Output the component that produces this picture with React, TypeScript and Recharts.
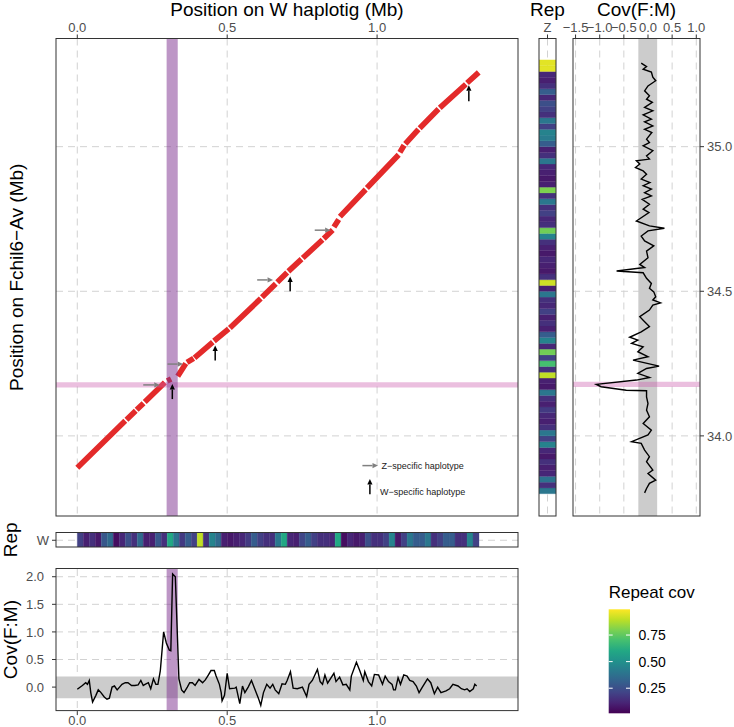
import React from 'react';
import {
  ComposedChart,
  ScatterChart,
  Scatter,
  Line,
  XAxis,
  YAxis,
  CartesianGrid,
  ReferenceLine,
  ReferenceArea,
  ReferenceDot,
} from 'recharts';

const FONT = '"Liberation Sans", Arial, Helvetica, sans-serif';
const RED = '#E32A2A';
const GRID = '#D2D2D2';
const DASH = '7 5';
const TICK_COL = '#4D4D4D';
const BORDER = '#333333';

// ---------- axis ticks ----------
const wTicks = [0, 0.5, 1.0];
const zTicks = [34.0, 34.5, 35.0];
const covZTicks = [-1.5, -1.0, -0.5, 0.0, 0.5, 1.0];
const covWTicks = [0.0, 0.5, 1.0, 1.5, 2.0];
const repWLabel = ['W'];
const repZLabel = ['Z'];

// ---------- domains ----------
const X_DOM: [number, number] = [-0.071, 1.47];
const Y_DOM: [number, number] = [33.723, 35.374];
const CZ_DOM: [number, number] = [-1.553, 1.077];
const CW_DOM: [number, number] = [-0.435, 2.14];

// ---------- highlighted regions ----------
const purpleBand = [0.298, 0.335]; // W haplotig (Mb)
const pinkBand = [34.169, 34.187]; // Fchil6-Av (Mb)
const covBand = [-0.2, 0.19];

// ---------- alignment segments (W haplotig x, Fchil6-Av y) ----------
const alnX1 = [0.000, 0.164, 0.198, 0.225, 0.300, 0.335, 0.366, 0.391, 0.456, 0.509, 0.616, 0.667, 0.704, 0.752, 0.822, 0.856, 0.876, 0.966, 1.076, 1.094, 1.142, 1.209, 1.300];
const alnX2 = [0.160, 0.195, 0.221, 0.292, 0.313, 0.362, 0.388, 0.452, 0.505, 0.612, 0.662, 0.700, 0.748, 0.818, 0.852, 0.872, 0.962, 1.072, 1.090, 1.138, 1.205, 1.296, 1.339];
const alnY1 = [33.890, 34.056, 34.090, 34.117, 34.190, 34.206, 34.254, 34.270, 34.328, 34.373, 34.479, 34.531, 34.569, 34.615, 34.682, 34.722, 34.758, 34.857, 34.980, 35.010, 35.064, 35.134, 35.220];
const alnY2 = [34.052, 34.087, 34.113, 34.185, 34.197, 34.250, 34.268, 34.324, 34.370, 34.475, 34.526, 34.565, 34.611, 34.678, 34.712, 34.748, 34.852, 34.972, 35.005, 35.060, 35.130, 35.216, 35.257];

// ---------- haplotype arrows ----------
const zArrowTailX = [0.220, 0.301, 0.600, 0.792];
const zArrowTipX = [0.275, 0.353, 0.653, 0.845];
const zArrowY = [34.178, 34.250, 34.541, 34.713];
const wArrowX = [0.317, 0.460, 0.710, 1.306];
const wArrowTailY = [34.129, 34.262, 34.502, 35.159];
const wArrowTipY = [34.181, 34.314, 34.553, 35.214];
// legend arrows
const legendLabels = ['Z\u2212specific haplotype', 'W\u2212specific haplotype'];
const legendZArrow = { x1: 0.951, x2: 1.003, y: 33.899 };
const legendWArrow = { x: 0.976, y1: 33.800, y2: 33.853 };
const legendTextX = [1.015, 1.010];
const legendTextY = [33.899, 33.809];

// ---------- repeat coverage tiles ----------
const REP_BIN = 0.02;
const repZStart = 33.80;
const repZVal = [
  0.40, 0.15, 0.38, 0.12, 0.10, 0.15, 0.08, 0.12, 0.45, 0.20,
  0.40, 0.15, 0.10, 0.12, 0.18, 0.10, 0.15, 0.40, 0.08, 0.10,
  0.90, 0.15, 0.70, 0.20, 0.78, 0.12, 0.45, 0.30, 0.10, 0.15,
  0.10, 0.20, 0.12, 0.15, 0.40, 0.10, 0.92, 0.15, 0.08, 0.10,
  0.12, 0.08, 0.10, 0.15, 0.45, 0.78, 0.15, 0.12, 0.20, 0.15,
  0.40, 0.15, 0.80, 0.10, 0.08, 0.10, 0.12, 0.40, 0.15, 0.10,
  0.30, 0.42, 0.45, 0.20, 0.40, 0.15, 0.20, 0.25, 0.12, 0.30,
  0.15, 0.10, 0.12, 0.95, 0.95,
];
const repWStart = 0.0;
const repWVal = [
  0.20, 0.10, 0.15, 0.08, 0.28, 0.35, 0.05, 0.12, 0.25, 0.15,
  0.35, 0.10, 0.10, 0.28, 0.15, 0.60, 0.38, 0.18, 0.30, 0.20,
  0.90, 0.15, 0.45, 0.35, 0.10, 0.08, 0.10, 0.12, 0.18, 0.30,
  0.20, 0.15, 0.15, 0.40, 0.60, 0.12, 0.10, 0.22, 0.30, 0.20,
  0.15, 0.15, 0.12, 0.60, 0.05, 0.12, 0.08, 0.10, 0.25, 0.15,
  0.15, 0.20, 0.45, 0.08, 0.20, 0.40, 0.30, 0.30, 0.40, 0.15,
  0.20, 0.30, 0.30, 0.15, 0.15, 0.45, 0.20,
];
const REP_MIN = 0.014;
const REP_MAX = 0.992;
const repLegendTicks = [0.25, 0.5, 0.75];

// ---------- Cov(F:M) along Fchil6-Av (right panel) ----------
const covZPos = [
  35.289, 35.277, 35.268, 35.258, 35.240, 35.228, 35.210, 35.193, 35.176, 35.164,
  35.153, 35.136, 35.124, 35.110, 35.095, 35.086, 35.072, 35.060, 35.049, 35.026,
  35.014, 35.003, 34.986, 34.968, 34.957, 34.951, 34.940, 34.928, 34.916, 34.905,
  34.888, 34.876, 34.865, 34.853, 34.841, 34.830, 34.818, 34.801, 34.784, 34.772,
  34.743, 34.726, 34.718, 34.709, 34.691, 34.674, 34.657, 34.639, 34.616, 34.593,
  34.582, 34.570, 34.564, 34.545, 34.527, 34.510, 34.498, 34.481, 34.470, 34.460,
  34.452, 34.435, 34.412, 34.395, 34.378, 34.360, 34.341, 34.331, 34.320, 34.308,
  34.291, 34.274, 34.262, 34.241, 34.233, 34.216, 34.202, 34.193, 34.178, 34.170,
  34.158, 34.156, 34.135, 34.112, 34.089, 34.066, 34.043, 34.020, 34.003, 33.980,
  33.974, 33.951, 33.928, 33.911, 33.882, 33.870, 33.847, 33.836, 33.818, 33.803,
];
const covZVal = [
  -0.14, -0.03, -0.10, 0.07, 0.10, 0.16, 0.00, -0.07, 0.03, -0.03,
  0.09, -0.07, 0.10, -0.10, 0.07, -0.07, 0.10, -0.07, 0.08, -0.03,
  0.03, -0.10, 0.10, -0.03, 0.03, -0.24, -0.17, -0.26, -0.10, -0.03,
  -0.14, 0.04, -0.10, 0.07, -0.07, 0.07, -0.12, 0.03, -0.10, 0.02,
  -0.24, 0.03, 0.34, 0.00, -0.14, -0.07, 0.12, -0.03, 0.00, -0.17,
  -0.07, -0.65, -0.10, -0.03, 0.07, 0.03, 0.12, 0.16, 0.10, 0.26,
  0.10, 0.03, -0.17, -0.07, 0.03, -0.14, -0.38, -0.21, -0.34, -0.10,
  -0.21, 0.00, -0.31, 0.23, -0.03, -0.21, 0.03, -0.24, -1.07, -0.97,
  -0.45, -0.03, -0.03, 0.00, -0.03, 0.03, -0.10, 0.07, 0.00, -0.34,
  -0.14, -0.07, 0.03, -0.03, 0.10, 0.00, 0.16, 0.03, -0.03, -0.07,
];

// ---------- Cov(F:M) along W haplotig (bottom panel) ----------
const covWPos = [
  0.000, 0.017, 0.028, 0.034, 0.040, 0.045, 0.051, 0.062, 0.070, 0.079,
  0.090, 0.099, 0.107, 0.116, 0.124, 0.133, 0.141, 0.149, 0.160, 0.169,
  0.181, 0.192, 0.203, 0.212, 0.220, 0.226, 0.237, 0.245, 0.254, 0.262,
  0.269, 0.277, 0.288, 0.297, 0.307, 0.312, 0.318, 0.327, 0.339, 0.348,
  0.356, 0.367, 0.375, 0.384, 0.393, 0.406, 0.418, 0.427, 0.435, 0.446,
  0.457, 0.463, 0.474, 0.480, 0.483, 0.491, 0.500, 0.508, 0.525, 0.530,
  0.542, 0.551, 0.559, 0.570, 0.581, 0.593, 0.604, 0.612, 0.621, 0.632,
  0.643, 0.652, 0.660, 0.672, 0.683, 0.694, 0.700, 0.711, 0.720, 0.734,
  0.751, 0.765, 0.773, 0.784, 0.801, 0.810, 0.818, 0.826, 0.835, 0.856,
  0.863, 0.875, 0.886, 0.897, 0.909, 0.914, 0.931, 0.942, 0.954, 0.959,
  0.971, 0.982, 0.991, 1.005, 1.018, 1.027, 1.038, 1.050, 1.055, 1.061,
  1.070, 1.078, 1.089, 1.100, 1.109, 1.120, 1.131, 1.140, 1.151, 1.168,
  1.179, 1.191, 1.202, 1.213, 1.230, 1.242, 1.253, 1.270, 1.281, 1.292,
  1.300, 1.309, 1.321, 1.326, 1.332,
];
const covWVal = [
  -0.04, 0.03, 0.08, 0.05, 0.12, -0.10, -0.27, -0.15, -0.05, -0.10,
  -0.18, -0.22, -0.20, 0.00, 0.02, -0.05, 0.00, 0.05, 0.08, 0.08,
  0.03, 0.03, 0.04, 0.12, 0.03, 0.05, 0.08, -0.03, 0.15, 0.05,
  0.05, 0.30, 1.00, 0.80, 0.67, 0.66, 2.05, 2.00, 0.15, -0.05,
  -0.10, 0.00, 0.08, 0.08, 0.03, 0.14, 0.08, 0.13, 0.20, 0.30,
  0.30, 0.20, 0.05, -0.10, -0.25, -0.15, 0.25, -0.03, -0.02, 0.00,
  -0.30, 0.02, -0.10, 0.00, 0.12, -0.05, -0.20, -0.33, -0.10, 0.05,
  -0.02, 0.05, -0.05, -0.12, 0.06, 0.05, 0.12, 0.28, -0.02, -0.03,
  0.00, -0.17, 0.05, 0.12, 0.32, 0.10, 0.05, 0.22, 0.07, 0.25,
  0.10, 0.18, 0.04, 0.05, -0.05, 0.20, 0.45, 0.30, 0.12, 0.28,
  0.10, 0.02, 0.23, 0.22, 0.05, 0.20, 0.10, 0.05, -0.05, -0.05,
  0.17, 0.05, 0.22, 0.20, 0.12, 0.10, 0.02, -0.10, 0.00, 0.15,
  0.08, -0.12, 0.00, -0.10, -0.07, -0.03, 0.05, 0.02, -0.03, -0.05,
  -0.03, -0.08, -0.03, 0.05, 0.02,
];

// ---------- helpers ----------
const VIRIDIS = ['#440154', '#482475', '#414487', '#355f8d', '#2a788e', '#21918c', '#22a884', '#44bf70', '#7ad151', '#bddf26', '#fde725'];
const hexRgb = (h: string) => [parseInt(h.slice(1, 3), 16), parseInt(h.slice(3, 5), 16), parseInt(h.slice(5, 7), 16)];
function viridis(v: number): string {
  let t = (v - REP_MIN) / (REP_MAX - REP_MIN);
  t = Math.max(0, Math.min(1, t));
  const s = t * (VIRIDIS.length - 1);
  const i = Math.min(VIRIDIS.length - 2, Math.floor(s));
  const f = s - i;
  const a = hexRgb(VIRIDIS[i]);
  const b = hexRgb(VIRIDIS[i + 1]);
  const c = a.map((av, k) => Math.round(av + (b[k] - av) * f));
  return `rgb(${c[0]},${c[1]},${c[2]})`;
}
const fmt1 = (v: number) => (v < 0 ? '\u2212' + Math.abs(v).toFixed(1) : v.toFixed(1));
const tickStyle = { fontSize: 13, fill: TICK_COL, fontFamily: FONT };

const alnData: { x: number; y: number | null }[] = [];
alnX1.forEach((x1, i) => {
  alnData.push({ x: x1, y: alnY1[i] });
  alnData.push({ x: alnX2[i], y: alnY2[i] });
  alnData.push({ x: alnX2[i], y: null });
});
const covZData = covZPos.map((p, i) => ({ v: covZVal[i], p }));
const covWData = covWPos.map((x, i) => ({ x, y: covWVal[i] }));

const makeArrow = (color: string) => (props: any) => {
  const { x1, y1, x2, y2 } = props;
  const dx = x2 - x1;
  const dy = y2 - y1;
  const len = Math.hypot(dx, dy) || 1;
  const ux = dx / len;
  const uy = dy / len;
  const hl = 5.5;
  const hw = 2.6;
  const bx = x2 - ux * hl;
  const by = y2 - uy * hl;
  return (
    <g>
      <line x1={x1} y1={y1} x2={bx} y2={by} stroke={color} strokeWidth={1.5} />
      <polygon points={`${x2},${y2} ${bx - uy * hw},${by + ux * hw} ${bx + uy * hw},${by - ux * hw}`} fill={color} />
    </g>
  );
};
const grayArrow = makeArrow('#808080');
const blackArrow = makeArrow('#000000');
const Empty = () => <g />;

// ---------- layout ----------
const PLOT_TOP = 38.5;
const PLOT_BOTTOM = 516;
const MAIN_L = 56;
const MAIN_W = 462;
const REPZ_L = 539;
const REPZ_W = 17;
const COVZ_L = 573;
const COVZ_W = 127;
const COVZ_PAD = 20;
const REPW_T = 532.5;
const REPW_H = 14.5;
const COVW_T = 568.5;
const COVW_H = 142.1;

const abs = (left: number, top: number): React.CSSProperties => ({ position: 'absolute', left, top });

export default function App() {
  const mainH = PLOT_BOTTOM;
  const barX = 608.7;
  const barW = 21.3;
  const barTop = 609.3;
  const barH = 104;
  const legY = (v: number) => barTop + barH - ((v - REP_MIN) / (REP_MAX - REP_MIN)) * barH;

  return (
    <div style={{ position: 'absolute', left: 0, top: 0, width: 734, height: 727, background: '#fff', fontFamily: FONT }}>
      {/* main dot plot: grid + alignments */}
      <div style={abs(MAIN_L, 0)}>
        <ComposedChart width={MAIN_W} height={mainH} data={alnData} margin={{ top: 0, right: 0, bottom: 0, left: 0 }}>
          <CartesianGrid stroke={GRID} strokeDasharray={DASH} verticalValues={wTicks} horizontalValues={zTicks} />
          <XAxis type="number" dataKey="x" orientation="top" domain={X_DOM} ticks={wTicks} allowDataOverflow height={PLOT_TOP}
            tickSize={4} tickMargin={3} axisLine={false} tickLine={{ stroke: BORDER }} tick={tickStyle} tickFormatter={fmt1} interval={0} />
          <YAxis type="number" domain={Y_DOM} allowDataOverflow hide />
          <Line dataKey="y" stroke={RED} strokeWidth={5.6} dot={false} isAnimationActive={false} connectNulls={false} strokeLinecap="butt" />
        </ComposedChart>
      </div>
      {/* main dot plot overlay: highlighted bands, arrows, arrow legend */}
      <div style={abs(MAIN_L, PLOT_TOP)}>
        <ComposedChart width={MAIN_W} height={PLOT_BOTTOM - PLOT_TOP} data={alnData} margin={{ top: 0, right: 0, bottom: 0, left: 0 }}>
          <XAxis type="number" dataKey="x" domain={X_DOM} allowDataOverflow hide />
          <YAxis type="number" domain={Y_DOM} allowDataOverflow hide />
          <ReferenceArea y1={pinkBand[0]} y2={pinkBand[1]} fill="#CC5FB0" fillOpacity={0.4} stroke="none" />
          <ReferenceArea x1={purpleBand[0]} x2={purpleBand[1]} fill="#7B2D8E" fillOpacity={0.5} stroke="none" />
          {zArrowTailX.map((x, i) => (
            <ReferenceLine key={'za' + i} segment={[{ x, y: zArrowY[i] }, { x: zArrowTipX[i], y: zArrowY[i] }]} shape={grayArrow} />
          ))}
          {wArrowX.map((x, i) => (
            <ReferenceLine key={'wa' + i} segment={[{ x, y: wArrowTailY[i] }, { x, y: wArrowTipY[i] }]} shape={blackArrow} />
          ))}
          <ReferenceLine segment={[{ x: legendZArrow.x1, y: legendZArrow.y }, { x: legendZArrow.x2, y: legendZArrow.y }]} shape={grayArrow} />
          <ReferenceLine segment={[{ x: legendWArrow.x, y: legendWArrow.y1 }, { x: legendWArrow.x, y: legendWArrow.y2 }]} shape={blackArrow} />
          {legendLabels.map((lab, i) => (
            <ReferenceDot key={'lt' + i} x={legendTextX[i]} y={legendTextY[i]} r={0}
              shape={(p: any) => (
                <text x={p.cx} y={p.cy} dy="0.35em" fontSize={9} fill="#1A1A1A" fontFamily={FONT}>{lab}</text>
              )} />
          ))}
        </ComposedChart>
      </div>

      {/* Rep Z strip */}
      <div style={abs(REPZ_L, 0)}>
        <ComposedChart width={REPZ_W} height={mainH} data={repZVal.map((v, i) => ({ i, v }))} margin={{ top: 0, right: 0, bottom: 0, left: 0 }}>
          <CartesianGrid stroke={GRID} strokeDasharray={DASH} verticalValues={[0.5]} horizontal={false} />
          <XAxis type="number" dataKey="i" orientation="top" domain={[0, 1]} ticks={[0.5]} allowDataOverflow height={PLOT_TOP}
            tickSize={4} tickMargin={3} axisLine={false} tickLine={{ stroke: BORDER }} tick={tickStyle} tickFormatter={() => repZLabel[0]} interval={0} />
          <YAxis type="number" domain={Y_DOM} allowDataOverflow hide />
          {repZVal.map((v, i) => (
            <ReferenceArea key={'rz' + i} x1={0} x2={1} y1={repZStart + i * REP_BIN} y2={repZStart + (i + 1) * REP_BIN}
              fill={viridis(v)} fillOpacity={1} stroke={viridis(v)} strokeWidth={0.3} />
          ))}
        </ComposedChart>
      </div>

      {/* Cov(F:M) vertical panel */}
      <div style={abs(COVZ_L - COVZ_PAD, 0)}>
        <ScatterChart width={734 - COVZ_L + COVZ_PAD} height={mainH} margin={{ top: 0, right: 0, bottom: 0, left: COVZ_PAD }}>
          <CartesianGrid stroke={GRID} strokeDasharray={DASH} verticalValues={covZTicks} horizontalValues={zTicks} />
          <XAxis type="number" dataKey="v" orientation="top" domain={CZ_DOM} ticks={covZTicks} allowDataOverflow height={PLOT_TOP}
            tickSize={4} tickMargin={3} axisLine={false} tickLine={{ stroke: BORDER }} tick={tickStyle} tickFormatter={fmt1} interval={0} />
          <YAxis type="number" dataKey="p" orientation="right" domain={Y_DOM} ticks={zTicks} allowDataOverflow width={734 - COVZ_L - COVZ_W}
            tickSize={4} tickMargin={3} axisLine={false} tickLine={{ stroke: BORDER }} tick={{ ...tickStyle, textAnchor: 'start' }} tickFormatter={fmt1} interval={0} />
          <ReferenceArea x1={covBand[0]} x2={covBand[1]} fill="#CCCCCC" fillOpacity={1} stroke="none" />
          <ReferenceArea y1={pinkBand[0]} y2={pinkBand[1]} fill="#CC5FB0" fillOpacity={0.4} stroke="none" />
          <Scatter data={covZData} line={{ stroke: '#000', strokeWidth: 1.4 }} shape={Empty} isAnimationActive={false} />
        </ScatterChart>
      </div>

      {/* Rep W strip */}
      <div style={abs(0, REPW_T)}>
        <ComposedChart width={MAIN_L + MAIN_W} height={REPW_H} data={repWVal.map((v, i) => ({ i, v }))} margin={{ top: 0, right: 0, bottom: 0, left: 0 }}>
          <CartesianGrid stroke={GRID} strokeDasharray={DASH} horizontalValues={[0.5]} vertical={false} />
          <XAxis type="number" dataKey="i" domain={X_DOM} allowDataOverflow hide />
          <YAxis type="number" domain={[0, 1]} ticks={[0.5]} allowDataOverflow width={MAIN_L}
            tickSize={4} tickMargin={3} axisLine={false} tickLine={{ stroke: BORDER }} tick={tickStyle} tickFormatter={() => repWLabel[0]} interval={0} />
          {repWVal.map((v, i) => (
            <ReferenceArea key={'rw' + i} y1={0} y2={1} x1={repWStart + i * REP_BIN} x2={repWStart + (i + 1) * REP_BIN}
              fill={viridis(v)} fillOpacity={1} stroke={viridis(v)} strokeWidth={0.3} />
          ))}
        </ComposedChart>
      </div>

      {/* Cov(F:M) bottom panel */}
      <div style={abs(0, COVW_T)}>
        <ComposedChart width={MAIN_L + MAIN_W} height={727 - COVW_T} data={covWData} margin={{ top: 0, right: 0, bottom: 0, left: 0 }}>
          <CartesianGrid stroke={GRID} strokeDasharray={DASH} verticalValues={wTicks} horizontalValues={covWTicks} />
          <XAxis type="number" dataKey="x" domain={X_DOM} ticks={wTicks} allowDataOverflow height={727 - COVW_T - COVW_H}
            tickSize={4} tickMargin={1} axisLine={false} tickLine={{ stroke: BORDER }} tick={tickStyle} tickFormatter={fmt1} interval={0} />
          <YAxis type="number" domain={CW_DOM} ticks={covWTicks} allowDataOverflow width={MAIN_L}
            tickSize={4} tickMargin={8} axisLine={false} tickLine={{ stroke: BORDER }} tick={tickStyle} tickFormatter={fmt1} interval={0} />
          <ReferenceArea y1={covBand[0]} y2={covBand[1]} fill="#CCCCCC" fillOpacity={1} stroke="none" />
          <ReferenceArea x1={purpleBand[0]} x2={purpleBand[1]} fill="#7B2D8E" fillOpacity={0.5} stroke="none" />
          <Line dataKey="y" stroke="#000" strokeWidth={1.4} dot={false} isAnimationActive={false} />
        </ComposedChart>
      </div>

      {/* titles, borders, colour legend */}
      <svg width={734} height={727} style={{ position: 'absolute', left: 0, top: 0, pointerEvents: 'none' }} fontFamily={FONT}>
        <defs>
          <linearGradient id="viridisGrad" x1="0" y1="1" x2="0" y2="0">
            {VIRIDIS.map((c, i) => (<stop key={c} offset={i / (VIRIDIS.length - 1)} stopColor={c} />))}
          </linearGradient>
        </defs>
        <rect x={MAIN_L} y={PLOT_TOP} width={MAIN_W} height={PLOT_BOTTOM - PLOT_TOP} fill="none" stroke={BORDER} strokeWidth={1} />
        <rect x={REPZ_L} y={PLOT_TOP} width={REPZ_W} height={PLOT_BOTTOM - PLOT_TOP} fill="none" stroke={BORDER} strokeWidth={1} />
        <rect x={COVZ_L} y={PLOT_TOP} width={COVZ_W} height={PLOT_BOTTOM - PLOT_TOP} fill="none" stroke={BORDER} strokeWidth={1} />
        <rect x={MAIN_L} y={REPW_T} width={MAIN_W} height={REPW_H} fill="none" stroke={BORDER} strokeWidth={1} />
        <rect x={MAIN_L} y={COVW_T} width={MAIN_W} height={COVW_H} fill="none" stroke={BORDER} strokeWidth={1} />

        <text x={MAIN_L + MAIN_W / 2} y={16} textAnchor="middle" fontSize={19} fill="#000">Position on W haplotig (Mb)</text>
        <text x={REPZ_L + REPZ_W / 2} y={16} textAnchor="middle" fontSize={19} fill="#000">Rep</text>
        <text x={COVZ_L + COVZ_W / 2} y={16} textAnchor="middle" fontSize={19} fill="#000">Cov(F:M)</text>
        <text transform={`translate(16, ${(PLOT_TOP + PLOT_BOTTOM) / 2}) rotate(-90)`} textAnchor="middle" dominantBaseline="central" fontSize={19} fill="#000">Position on Fchil6{'\u2212'}Av (Mb)</text>
        <text transform={`translate(10, ${REPW_T + REPW_H / 2}) rotate(-90)`} textAnchor="middle" dominantBaseline="central" fontSize={19} fill="#000">Rep</text>
        <text transform={`translate(10, ${COVW_T + COVW_H / 2}) rotate(-90)`} textAnchor="middle" dominantBaseline="central" fontSize={19} fill="#000">Cov(F:M)</text>

        <text x={barX} y={598} fontSize={17} fill="#000">Repeat cov</text>
        <rect x={barX} y={barTop} width={barW} height={barH} fill="url(#viridisGrad)" />
        {repLegendTicks.map((t) => (
          <g key={'lg' + t}>
            <line x1={barX} x2={barX + 4} y1={legY(t)} y2={legY(t)} stroke="#fff" strokeWidth={1} />
            <line x1={barX + barW - 4} x2={barX + barW} y1={legY(t)} y2={legY(t)} stroke="#fff" strokeWidth={1} />
            <text x={barX + barW + 8.5} y={legY(t)} dy="0.35em" fontSize={14} fill="#000">{t.toFixed(2)}</text>
          </g>
        ))}
      </svg>
    </div>
  );
}
